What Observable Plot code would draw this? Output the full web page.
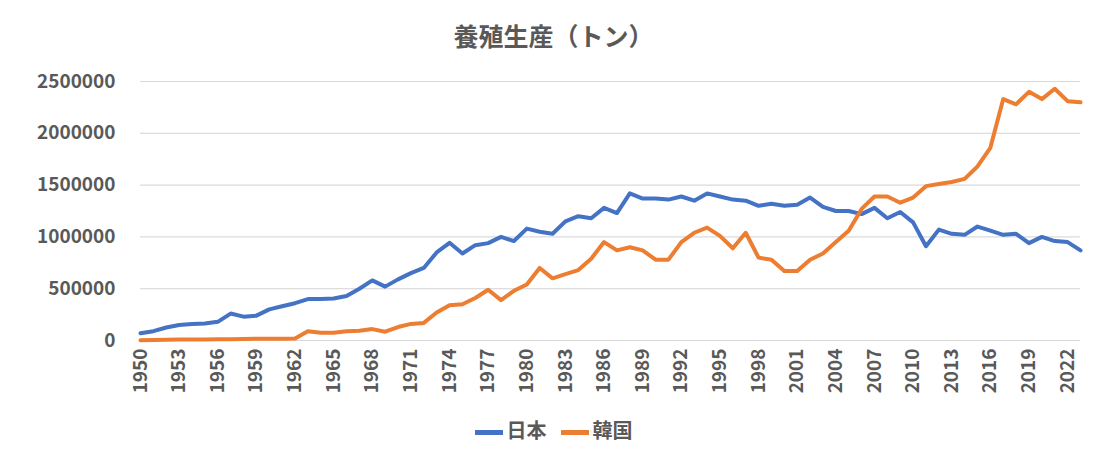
<!DOCTYPE html>
<html><head><meta charset="utf-8">
<script src="https://cdn.jsdelivr.net/npm/d3@7"></script>
<script src="https://cdn.jsdelivr.net/npm/@observablehq/plot@0.6"></script>
<style>
body{margin:0;background:#fff;font-family:"Noto Sans CJK JP",sans-serif;}
#title{height:60px;line-height:70px;text-align:center;font-size:25px;font-weight:bold;color:#595959;}
#legend{height:45px;display:flex;justify-content:center;align-items:center;gap:14px;font-size:20px;font-weight:bold;color:#595959;}
.sw{display:inline-block;width:28px;height:5px;margin-right:4px;vertical-align:middle;}
</style></head><body>
<div id="title">養殖生産（トン）</div>
<div id="chart"></div>
<div id="legend"><span><span class="sw" style="background:#4472C4"></span>日本</span><span><span class="sw" style="background:#ED7D31"></span>韓国</span></div>
<script>
const years = d3.range(1950, 2024);
const japan = [70000,90000,125000,150000,160000,165000,180000,260000,230000,240000,300000,330000,360000,400000,400000,405000,430000,500000,580000,520000,590000,650000,700000,850000,943000,840000,920000,940000,1000000,960000,1080000,1050000,1030000,1150000,1200000,1180000,1280000,1230000,1420000,1370000,1370000,1360000,1390000,1350000,1420000,1390000,1360000,1350000,1300000,1320000,1300000,1310000,1380000,1290000,1250000,1250000,1220000,1280000,1180000,1240000,1140000,910000,1070000,1030000,1020000,1100000,1060000,1020000,1030000,940000,1000000,960000,950000,870000];
const korea = [3000,5000,8000,10000,10000,10000,12000,13000,15000,18000,18000,18000,20000,90000,75000,75000,90000,95000,110000,85000,130000,160000,170000,270000,340000,350000,410000,490000,390000,480000,540000,700000,600000,640000,680000,790000,950000,870000,900000,870000,780000,780000,950000,1040000,1090000,1010000,890000,1040000,800000,780000,670000,670000,780000,840000,950000,1060000,1270000,1390000,1390000,1330000,1380000,1490000,1510000,1530000,1560000,1680000,1860000,2330000,2280000,2400000,2330000,2430000,2310000,2300000];
const xTicks = d3.range(1950, 2023, 3);
const yTicks = [0,500000,1000000,1500000,2000000,2500000];
const data = [
  ...years.map((y,i)=>({year:y, v:japan[i], s:"日本"})),
  ...years.map((y,i)=>({year:y, v:korea[i], s:"韓国"}))
];
const chart = Plot.plot({
  width:1107, height:347,
  marginTop:21, marginBottom:67, marginLeft:140, marginRight:27,
  style:{fontFamily:"'Noto Sans CJK JP',sans-serif", fontSize:"19px", fontWeight:"bold", color:"#595959"},
  x:{domain:[1950,2023], ticks:xTicks, tickFormat:d=>String(d), tickRotate:-90, tickSize:0, label:null, tickPadding:8},
  y:{domain:[0,2500000], ticks:yTicks, tickFormat:d=>String(d), tickSize:0, label:null, grid:true, tickPadding:25},
  color:{domain:["日本","韓国"], range:["#4472C4","#ED7D31"]},
  marks:[
    Plot.gridY(yTicks,{stroke:"#d9d9d9", strokeOpacity:1}),
    Plot.line(data,{x:"year", y:"v", stroke:"s", strokeWidth:4, strokeLinejoin:"round"})
  ]
});
document.getElementById("chart").appendChild(chart);
</script></body></html>
